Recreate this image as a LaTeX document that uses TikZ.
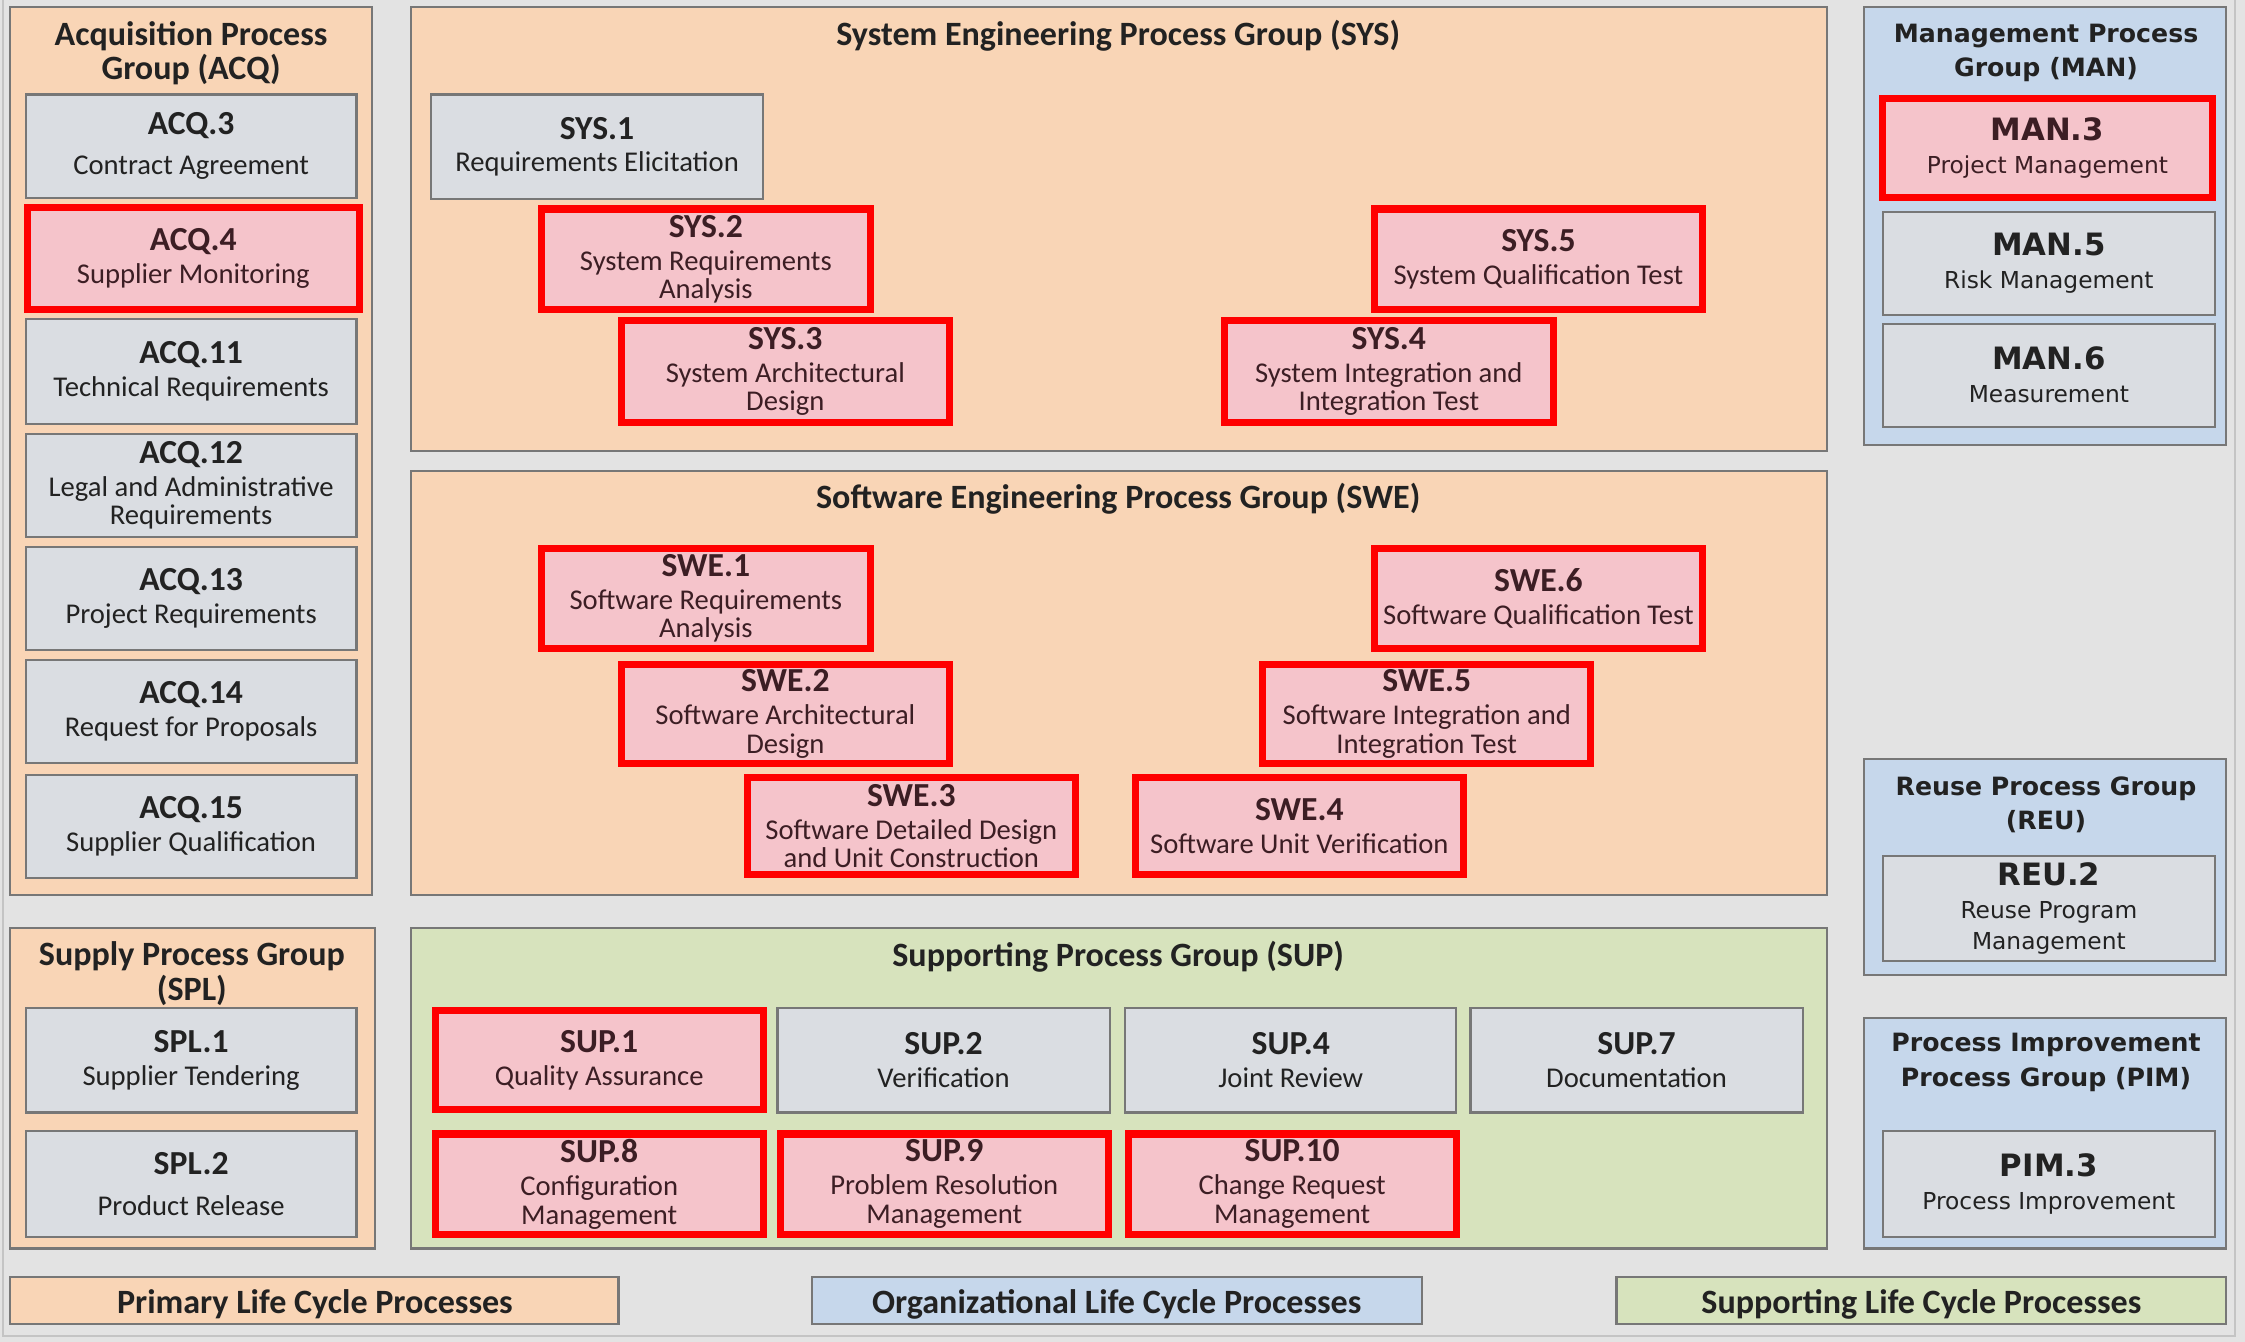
\documentclass[tikz,border=0pt]{standalone}
\usepackage{fontspec}
\setmainfont{Carlito}
\newfontfamily\tah{DejaVu Sans}
\definecolor{bg}{HTML}{E3E3E3}
\definecolor{peach}{HTML}{F9D5B6}
\definecolor{bluegrp}{HTML}{C6D7EB}
\definecolor{greengrp}{HTML}{D7E3BD}
\definecolor{graybox}{HTML}{DADDE2}
\definecolor{pinkbox}{HTML}{F5C4CB}
\definecolor{edgec}{HTML}{777777}
\definecolor{txt}{HTML}{222222}
\definecolor{redtxt}{HTML}{3C1E24}
\definecolor{framec}{HTML}{C4C4C4}
\newcommand\subf{\fontsize{20}{20}\selectfont}
\newcommand\ttl[1]{{\fontsize{23.5}{20}\selectfont\bfseries #1}\\[3pt]}
\newcommand\ttlx[1]{{\fontsize{23.5}{20}\selectfont\bfseries #1}\\[8pt]}
\newcommand\rsubf{\tah\fontsize{16.3}{22}\selectfont}
\newcommand\rttl[1]{{\fontsize{21.5}{22}\selectfont\bfseries #1}\\[1pt]}
\newcommand\mybox[7]{%
  \pgfmathsetmacro\bw{#5-#3}\pgfmathsetmacro\bh{#6-#4}%
  \node[#1, minimum width=\bw pt, minimum height=\bh pt] (#2) at ({(#3+#5)/2},{(#4+#6)/2}) {#7};}
\tikzset{
  grp/.style={draw=edgec, line width=1.5pt, inner sep=0pt},
  gbox/.style={draw=edgec, fill=graybox, line width=1.5pt, align=center, inner sep=0pt, text=txt, font=\subf},
  rbox/.style={draw=red, fill=pinkbox, line width=5pt, align=center, inner sep=0pt, text=redtxt, font=\subf},
  rgbox/.style={gbox, font=\rsubf},
  rrbox/.style={rbox, font=\rsubf},
  gtitle/.style={align=center, text=txt, font=\fontsize{23.8}{24}\selectfont\bfseries, inner sep=0pt},
  rtitle/.style={align=center, text=txt, font=\tah\fontsize{17.6}{24}\selectfont\bfseries, inner sep=0pt},
  bar/.style={draw=edgec, line width=1.5pt, inner sep=0pt},
  bartext/.style={text=txt, font=\fontsize{23.8}{24}\selectfont\bfseries, inner sep=0pt}
}
\begin{document}
\begin{tikzpicture}[x=1pt,y=-1pt]
\useasboundingbox (0,0) rectangle (1568,937);
\fill[bg] (0,0) rectangle (1568,937);
\draw[framec, line width=1.5pt] (2,-2) -- (2,933) -- (1561,933) -- (1561,-2);

% ACQ
\mybox{grp, fill=peach}{acq}{7}{5}{260}{625}{}
\node[gtitle] (acqt) at (133.5,37) {Acquisition Process\\Group (ACQ)};
\mybox{gbox}{acq3}{18}{66}{249}{138}{\ttlx{ACQ.3}Contract Agreement}
\mybox{rbox}{acq4}{19}{145}{251}{216}{\ttl{ACQ.4}Supplier Monitoring}
\mybox{gbox}{acq11}{18}{223}{249}{296}{\ttl{ACQ.11}Technical Requirements}
\mybox{gbox}{acq12}{18}{303}{249}{375}{\ttl{ACQ.12}Legal and Administrative\\Requirements}
\mybox{gbox}{acq13}{18}{382}{249}{454}{\ttl{ACQ.13}Project Requirements}
\mybox{gbox}{acq14}{18}{461}{249}{533}{\ttl{ACQ.14}Request for Proposals}
\mybox{gbox}{acq15}{18}{541}{249}{613}{\ttl{ACQ.15}Supplier Qualification}

% SYS
\mybox{grp, fill=peach}{sys}{287}{5}{1276}{315}{}
\node[gtitle] (syst) at (781,25) {System Engineering Process Group (SYS)};
\mybox{gbox}{sys1}{301}{66}{533}{139}{\ttl{SYS.1}Requirements Elicitation}
\mybox{rbox}{sys2}{378}{146}{608}{216}{\ttl{SYS.2}System Requirements\\Analysis}
\mybox{rbox}{sys3}{434}{224}{663}{295}{\ttl{SYS.3}System Architectural\\Design}
\mybox{rbox}{sys5}{960}{146}{1189}{216}{\ttl{SYS.5}System Qualification Test}
\mybox{rbox}{sys4}{855}{224}{1085}{295}{\ttl{SYS.4}System Integration and\\Integration Test}

% SWE
\mybox{grp, fill=peach}{swe}{287}{329}{1276}{625}{}
\node[gtitle] (swet) at (781,348) {Software Engineering Process Group (SWE)};
\mybox{rbox}{swe1}{378}{383}{608}{453}{\ttl{SWE.1}Software Requirements\\Analysis}
\mybox{rbox}{swe2}{434}{464}{663}{533}{\ttl{SWE.2}Software Architectural\\Design}
\mybox{rbox}{swe3}{522}{543}{751}{611}{\ttl{SWE.3}Software Detailed Design\\and Unit Construction}
\mybox{rbox}{swe6}{960}{383}{1189}{453}{\ttl{SWE.6}Software Qualification Test}
\mybox{rbox}{swe5}{882}{464}{1111}{533}{\ttl{SWE.5}Software Integration and\\Integration Test}
\mybox{rbox}{swe4}{793}{543}{1022}{611}{\ttl{SWE.4}Software Unit Verification}

% SPL
\mybox{grp, fill=peach}{spl}{7}{648}{262}{872}{}
\node[gtitle] (splt) at (134,680) {Supply Process Group\\(SPL)};
\mybox{gbox}{spl1}{18}{704}{249}{777}{\ttl{SPL.1}Supplier Tendering}
\mybox{gbox}{spl2}{18}{790}{249}{864}{\ttlx{SPL.2}Product Release}

% SUP
\mybox{grp, fill=greengrp}{sup}{287}{648}{1276}{872}{}
\node[gtitle] (supt) at (781,668) {Supporting Process Group (SUP)};
\mybox{rbox}{sup1}{304}{706}{533}{775}{\ttl{SUP.1}Quality Assurance}
\mybox{gbox}{sup2}{543}{704}{775}{777}{\ttl{SUP.2}Verification}
\mybox{gbox}{sup4}{786}{704}{1017}{777}{\ttl{SUP.4}Joint Review}
\mybox{gbox}{sup7}{1027}{704}{1259}{777}{\ttl{SUP.7}Documentation}
\mybox{rbox}{sup8}{304}{792}{533}{862}{\ttl{SUP.8}Configuration\\Management}
\mybox{rbox}{sup9}{545}{792}{774}{862}{\ttl{SUP.9}Problem Resolution\\Management}
\mybox{rbox}{sup10}{788}{792}{1017}{862}{\ttl{SUP.10}Change Request\\Management}

% MAN
\mybox{grp, fill=bluegrp}{man}{1302}{5}{1555}{311}{}
\node[rtitle] (mant) at (1429,37) {Management Process\\Group (MAN)};
\mybox{rrbox}{man3}{1315}{69}{1545}{138}{\rttl{MAN.3}Project Management}
\mybox{rgbox}{man5}{1315}{148}{1547}{220}{\rttl{MAN.5}Risk Management}
\mybox{rgbox}{man6}{1315}{226}{1547}{298}{\rttl{MAN.6}Measurement}

% REU
\mybox{grp, fill=bluegrp}{reu}{1302}{530}{1555}{681}{}
\node[rtitle] (reut) at (1429,562) {Reuse Process Group\\(REU)};
\mybox{rgbox}{reu2}{1315}{598}{1547}{671}{\rttl{REU.2}Reuse Program\\Management}

% PIM
\mybox{grp, fill=bluegrp}{pim}{1302}{711}{1555}{872}{}
\node[rtitle] (pimt) at (1429,742) {Process Improvement\\Process Group (PIM)};
\mybox{rgbox}{pim3}{1315}{790}{1547}{864}{\rttl{PIM.3}Process Improvement}

% bars
\mybox{bar, fill=peach}{prim}{7}{892}{432}{925}{}
\node[bartext] (primt) at (220,911) {Primary Life Cycle Processes};
\mybox{bar, fill=bluegrp}{org}{567}{892}{993}{925}{}
\node[bartext] (orgt) at (780,911) {Organizational Life Cycle Processes};
\mybox{bar, fill=greengrp}{supp}{1129}{892}{1555}{925}{}
\node[bartext] (suppt) at (1342,911) {Supporting Life Cycle Processes};
\end{tikzpicture}
\end{document}
